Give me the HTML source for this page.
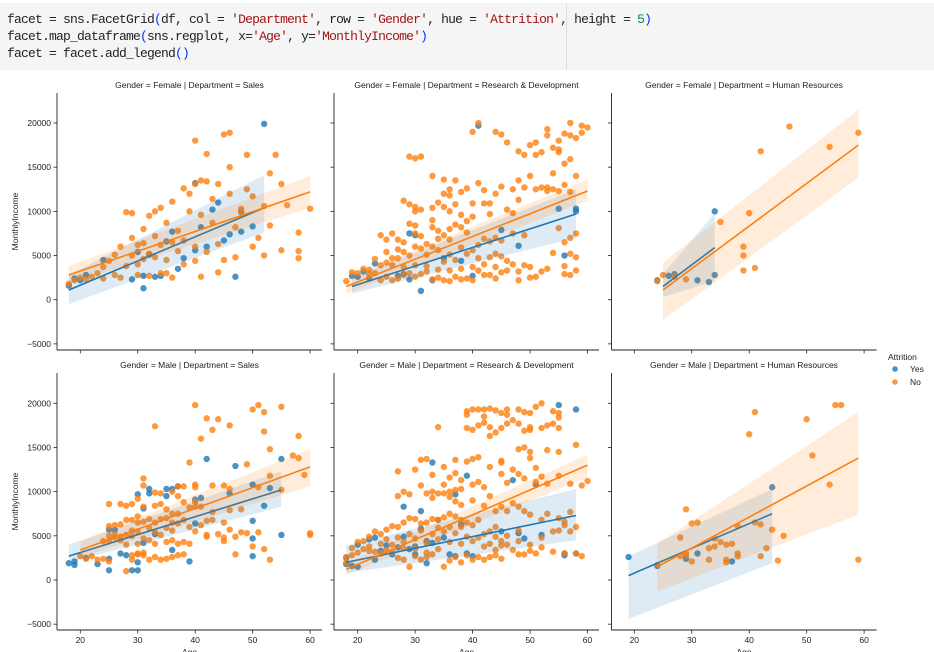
<!DOCTYPE html>
<html><head><meta charset="utf-8">
<style>
html,body{margin:0;padding:0;background:#fff;width:934px;height:652px;overflow:hidden;}
#cell{position:absolute;left:0;top:3px;width:934px;height:67px;background:#f5f5f5;}
#cell pre{margin:0;position:absolute;left:7px;top:8px;font-family:"Liberation Mono","Noto Sans CJK KR",monospace;font-size:13px;letter-spacing:-0.8px;line-height:17px;color:#222;}
.s{color:#a31515}.n{color:#098658}.b{color:#0431fa}
#vline{position:absolute;left:566px;top:0;width:1px;height:67px;background:#ddd;}
svg{position:absolute;left:0;top:0;}
svg text{font-family:"Liberation Sans",sans-serif;}
</style></head><body>
<div id="cell"><pre>facet = sns.FacetGrid<span class="b">(</span>df, col = <span class="s">'Department'</span>, row = <span class="s">'Gender'</span>, hue = <span class="s">'Attrition'</span>, height = <span class="n">5</span><span class="b">)</span>
facet.map_dataframe<span class="b">(</span>sns.regplot, x=<span class="s">'Age'</span>, y=<span class="s">'MonthlyIncome'</span><span class="b">)</span>
facet = facet.add_legend<span class="b">()</span></pre><div id="vline"></div></div>
<svg id="chart" width="934" height="652"></svg>
<script>
// ---- data: [age, income] pairs ----
const fsYes=[[18,1600],[19,2400],[20,2200],[21,2800],[24,4500],[29,2300],[30,5400],[31,2700],[31,1300],[32,5100],[33,2600],[35,6600],[36,7700],[38,4700],[40,13200],[40,5600],[41,8200],[42,6000],[43,10200],[44,11000],[45,6700],[46,7400],[47,2600],[48,10000],[48,7700],[50,8300],[52,19900],[37,3500],[34,2700]];
const fsNo=[[18,1800],[19,2200],[20,2500],[21,2300],[22,2600],[23,3000],[24,2400],[25,4400],[26,2800],[27,2500],[27,6000],[28,3800],[28,9900],[29,9800],[29,5000],[29,7000],[30,4000],[30,6200],[30,2800],[31,8000],[31,4600],[32,5200],[32,2700],[33,10000],[33,4800],[33,7200],[34,6200],[34,3000],[34,10400],[35,8700],[35,4500],[36,6500],[36,11100],[36,2500],[37,5500],[37,7800],[38,12600],[38,4000],[39,12000],[39,10000],[40,18000],[40,13100],[40,6000],[40,4400],[41,13500],[41,9600],[41,2600],[42,16500],[42,13400],[42,5400],[43,11400],[43,8700],[44,6300],[44,13100],[45,18700],[45,4500],[46,18900],[46,12000],[46,15000],[47,8200],[47,4800],[48,9900],[48,10300],[49,16400],[49,12500],[50,6000],[50,11700],[51,7000],[52,10600],[53,14300],[53,8400],[54,16400],[55,5600],[55,13100],[56,10700],[58,7600],[58,4700],[58,5500],[60,10300],[52,5000],[44,3100],[38,6700],[32,9500],[31,6400],[26,5100],[24,3700],[35,3000]];
const frYes=[[19,2700],[20,2600],[21,3200],[22,2400],[23,4100],[27,2700],[29,2300],[29,7500],[30,7300],[31,1000],[33,2200],[35,4700],[38,4400],[40,2700],[41,19700],[45,7900],[48,6100],[55,10300],[56,5000],[58,10000],[58,10300],[28,2900]];
const frNo=[[41,20000],[40,19000],[44,19000],[45,18700],[46,17800],[48,16800],[49,16400],[51,16400],[52,16700],[54,17200],[50,17500],[55,17000],[56,18800],[57,18600],[58,18300],[59,18900],[55,18000],[57,20000],[59,19700],[60,19500],[53,19300],[51,17800],[53,18600],[55,16700],[57,15900],[56,15400],[54,14300],[50,14000],[48,13500],[52,12700],[53,12700],[54,12500],[55,12300],[56,13000],[51,12500],[53,12300],[57,12200],[58,14000],[48,11300],[47,12500],[45,12800],[42,12400],[43,10900],[41,13200],[39,12600],[38,12200],[37,13500],[36,12500],[35,13600],[36,11800],[33,14000],[30,16000],[31,16200],[29,16200],[35,12000],[44,12000],[49,12700],[28,11200],[29,10800],[30,10500],[30,10000],[31,10200],[33,10400],[34,11000],[35,10500],[36,10000],[37,10800],[38,9600],[40,10900],[42,10900],[46,10200],[47,9800],[40,9400],[43,9700],[33,8200],[34,7800],[36,8000],[37,8500],[30,8400],[29,8600],[26,7500],[27,6800],[25,6800],[24,7300],[28,6500],[30,7500],[34,6900],[35,7300],[36,6800],[38,8200],[39,7600],[41,6200],[42,6900],[43,6600],[44,7000],[45,6700],[47,7500],[49,7300],[55,8100],[56,6500],[57,7000],[58,7500],[54,5300],[56,3800],[57,5200],[58,4800],[56,2900],[58,3300],[57,2800],[53,3500],[52,3200],[50,3700],[49,3900],[48,3200],[47,4000],[46,4400],[45,4900],[44,5200],[43,4800],[41,4700],[40,5600],[39,5200],[38,5900],[37,4500],[36,5100],[35,4300],[34,5600],[33,6000],[32,5100],[31,5800],[30,6000],[29,5000],[28,5400],[27,4700],[26,4700],[25,4200],[24,3900],[23,4600],[22,3400],[21,3500],[20,3000],[19,3100],[18,2100],[22,2900],[23,3000],[24,2200],[25,2600],[26,2200],[27,2400],[28,2800],[29,3000],[30,2600],[31,2900],[32,3200],[33,2300],[34,2500],[35,2200],[36,2100],[37,2600],[38,2300],[39,2400],[40,2200],[41,3300],[42,2800],[43,2800],[44,2400],[45,3100],[46,3300],[48,2200],[50,2500],[51,2600],[26,3900],[28,3700],[30,3900],[32,3800],[34,3400],[36,3300],[38,3500],[40,3700],[42,4000],[44,3700],[31,7200],[32,6300],[27,5700],[25,5400],[33,9000],[39,8900]];
const fhYes=[[24,2200],[26,2700],[27,2900],[31,2200],[34,10000],[34,2800],[33,2000]];
const fhNo=[[24,2100],[25,2800],[27,2600],[29,2300],[35,8800],[39,5000],[39,6000],[39,3300],[40,9800],[41,3600],[42,16800],[47,19600],[54,17300],[59,18900]];
const msYes=[[18,1900],[19,2100],[19,1700],[21,2500],[23,1800],[25,1100],[25,2400],[25,5700],[26,5700],[27,3000],[28,2800],[29,1100],[30,1100],[30,2000],[30,9700],[31,8100],[31,4200],[32,10300],[32,9800],[35,10300],[36,10300],[37,10600],[36,3400],[39,2100],[40,6400],[40,9100],[41,9300],[42,13700],[46,9800],[47,12900],[50,10800],[50,6700],[50,4700],[50,2700],[52,8400],[53,10400],[55,13700],[55,5100],[35,9500],[33,5200]];
const msNo=[[40,19800],[51,19800],[50,19300],[55,19600],[52,19000],[33,17400],[42,18300],[44,18200],[43,17000],[46,17500],[52,16800],[41,16000],[58,16300],[53,14800],[57,14100],[58,13800],[39,13300],[49,13100],[59,11900],[53,11800],[31,11500],[31,10700],[40,10800],[40,10500],[43,10700],[45,10700],[46,10300],[55,10200],[51,10500],[37,10600],[38,10600],[36,10000],[33,9900],[34,9800],[37,9500],[30,9200],[25,8600],[27,8600],[28,8400],[29,8600],[31,8300],[33,8400],[35,8000],[39,8200],[40,8300],[41,8300],[48,8000],[46,7900],[43,7700],[36,7500],[37,7500],[38,8800],[40,8800],[34,8600],[30,7200],[32,6900],[26,6200],[25,6100],[27,6300],[28,6800],[29,6800],[30,6500],[31,6600],[33,6500],[34,6900],[35,7000],[36,6500],[37,6400],[38,6800],[39,6000],[41,6200],[42,6700],[43,6800],[45,6500],[46,5700],[47,4900],[48,5400],[49,5300],[51,5400],[44,5200],[42,4900],[40,5500],[39,4100],[38,4300],[36,4500],[37,4100],[35,4300],[33,4100],[32,4500],[31,4700],[30,4100],[29,5600],[28,5100],[27,4900],[26,4800],[25,4400],[24,4400],[22,2700],[20,2700],[21,2400],[23,2300],[24,2400],[25,2100],[28,1000],[29,2300],[30,2900],[31,2800],[32,2300],[33,2600],[34,2300],[35,2400],[36,2600],[37,2800],[38,2900],[42,5100],[45,4400],[45,4800],[47,2900],[50,3800],[52,3500],[53,2300],[60,5300],[60,5100],[29,2800],[30,3000],[31,3100],[25,5000],[26,5200],[27,4500],[28,4000],[32,5900],[33,5400],[34,5100],[35,5900],[36,5600],[29,5000],[30,5500]];
const mrYes=[[18,1800],[18,2500],[19,1600],[20,1500],[20,4000],[22,4600],[23,4800],[23,2300],[24,3300],[26,2900],[27,3700],[28,8300],[28,4900],[29,3500],[30,2900],[31,7800],[31,5800],[32,4400],[32,1900],[33,13300],[33,4200],[34,6800],[35,4800],[36,2900],[37,9700],[37,2700],[38,6300],[39,11800],[39,3000],[40,2700],[45,5500],[47,11300],[48,5300],[49,4700],[51,10800],[52,5100],[55,19800],[56,3000],[56,2800],[58,3000],[58,19300],[30,3800],[25,3900]];
const mrNo=[[39,19100],[39,18700],[40,19300],[41,19300],[42,19300],[42,18500],[43,19400],[44,19200],[45,18900],[46,19300],[46,18700],[48,19300],[49,19000],[50,18900],[51,19600],[52,20000],[54,19100],[55,18900],[55,18400],[42,17800],[43,17300],[44,16700],[45,17200],[46,17700],[47,18100],[48,17700],[49,16900],[50,17300],[50,17000],[52,17200],[53,17500],[54,17700],[55,17200],[39,17200],[40,17000],[41,17500],[34,17300],[43,16300],[48,14800],[49,15000],[50,14500],[50,13800],[53,14700],[55,14500],[58,15300],[41,13900],[40,13700],[39,13400],[37,13600],[32,13700],[31,13600],[27,12300],[30,12500],[33,11900],[35,12800],[37,12100],[38,11300],[36,11600],[43,12800],[45,13300],[45,13500],[47,12500],[49,11500],[51,12700],[51,11100],[52,11700],[53,10900],[55,11800],[57,10900],[60,11200],[59,10700],[48,12000],[46,11000],[45,12000],[42,10500],[41,11100],[40,10800],[38,10300],[37,10200],[36,10000],[35,10800],[34,9800],[33,10000],[32,9800],[31,10700],[29,9700],[28,10000],[27,9500],[33,9300],[35,9800],[36,9400],[37,8900],[38,8500],[40,9000],[42,8400],[43,9500],[44,7800],[45,8300],[46,7800],[47,8700],[48,8300],[49,7800],[50,7400],[52,6800],[53,7500],[55,7000],[56,6600],[57,7700],[58,6000],[55,5600],[57,5500],[56,6200],[58,3000],[59,2700],[56,3000],[54,3200],[52,3700],[50,3300],[49,2900],[48,2900],[50,4000],[51,3000],[47,3400],[46,4000],[45,4400],[44,4900],[43,5500],[42,5200],[41,6800],[40,6200],[39,6500],[38,6800],[37,7200],[36,7500],[35,7100],[34,6800],[33,6900],[32,6500],[31,6400],[30,6900],[29,7000],[28,6500],[27,6000],[26,6100],[25,5700],[24,5200],[23,5500],[22,4900],[21,4400],[20,4300],[19,3600],[18,2600],[18,2000],[19,2800],[20,3100],[21,3500],[22,3800],[23,3200],[24,3000],[25,3400],[26,3200],[27,2500],[28,2300],[29,1500],[30,2700],[31,2300],[32,2600],[33,2900],[34,3500],[35,1500],[36,2200],[37,2600],[38,2000],[39,2800],[40,2300],[41,2600],[42,2300],[43,2600],[44,2800],[45,2400],[25,4600],[27,4800],[29,5200],[31,5600],[33,5200],[35,5500],[37,5300],[39,4900],[41,4800],[43,4100],[45,3900],[26,4000],[28,4300],[30,4700],[32,4200],[34,4600],[36,4300],[38,4100],[40,4400],[42,3800],[44,3400],[48,4400],[24,4100],[22,3300],[28,3600],[30,3500],[32,3100],[34,5900],[36,6000],[38,6000],[44,6000],[46,5000],[48,5600],[52,4800],[54,5500]];
const mhYes=[[19,2600],[24,1600],[29,2400],[31,3000],[37,2100],[44,10500]];
const mhNo=[[24,1700],[28,2700],[28,4800],[29,8000],[29,2800],[30,6400],[30,2100],[31,6500],[33,3600],[33,2300],[34,4700],[34,3800],[35,4300],[36,4000],[36,2300],[36,2000],[37,4100],[38,3000],[38,2700],[38,6100],[40,16500],[41,19000],[41,6500],[42,6300],[42,2700],[43,3600],[44,5700],[45,2200],[46,5000],[50,18200],[51,14100],[54,10800],[55,19800],[56,19800],[59,2300],[29,3000]];
// regression fits: [ageStart, incStart, ageEnd, incEnd]
const fsYesFit=[18,1100,52,10400], fsNoFit=[18,2800,60,12200];
const frYesFit=[19,1500,58,9700], frNoFit=[18,1500,60,12300];
const fhYesFit=[25,1500,34,5900], fhNoFit=[25,1100,59,17500];
const msYesFit=[18,2700,55,10200], msNoFit=[20,3400,60,12800];
const mrYesFit=[18,2000,58,7300], mrNoFit=[18,1200,60,13000];
const mhYesFit=[19,500,44,7500], mhNoFit=[24,1500,59,13800];
// confidence bands: [lowStart, highStart, lowEnd, highEnd]
const fsYesCI=[-500,2800,7600,14100], fsNoCI=[1800,3800,10400,14000];
const frYesCI=[700,2500,7000,12500], frNoCI=[700,2400,11200,13600];
const fhYesCI=[300,2900,2100,9800], fhNoCI=[-2300,4200,13800,21500];
const msYesCI=[2000,4000,8300,12300], msNoCI=[2600,4400,10600,14800];
const mrYesCI=[800,3900,4500,10300], mrNoCI=[600,1900,11600,14200];
const mhYesCI=[-4400,2700,1900,10300], mhNoCI=[-1300,4100,7400,19000];
const yTicks=[-5000,0,5000,10000,15000,20000];
const xTicks=[20,30,40,50,60];
const colTitles=['Sales','Research & Development','Human Resources'];
const rowTitles=['Female','Male'];

const NS='http://www.w3.org/2000/svg';
const svg=document.getElementById('chart');
const BLUE='#1f77b4', ORANGE='#ff7f0e';
const colLeft=[57,334,611.5], colX20=[80.3,357.7,634.3];
const rowTop=[93,373], rowBottom=[350,630], rowZero=[299.7,580];
const PXY=5.745, PXI=0.008835, W=265;
function el(t,a,p){const e=document.createElementNS(NS,t);for(const k in a)e.setAttribute(k,a[k]);(p||svg).appendChild(e);return e;}

const panels=[
 [0,0,fsYes,fsNo,fsYesFit,fsNoFit,fsYesCI,fsNoCI],[0,1,frYes,frNo,frYesFit,frNoFit,frYesCI,frNoCI],[0,2,fhYes,fhNo,fhYesFit,fhNoFit,fhYesCI,fhNoCI],
 [1,0,msYes,msNo,msYesFit,msNoFit,msYesCI,msNoCI],[1,1,mrYes,mrNo,mrYesFit,mrNoFit,mrYesCI,mrNoCI],[1,2,mhYes,mhNo,mhYesFit,mhNoFit,mhYesCI,mhNoCI]];

panels.forEach(([r,c,yes,no,yf,nf,yci,nci])=>{
  const X=a=>colX20[c]+(a-20)*PXY, Y=v=>rowZero[r]-v*PXI;
  const g=el('g',{});
  
  
  const L=colLeft[c],T=rowTop[r],B=rowBottom[r];
  const cp=el('clipPath',{id:'cp'+r+c},g); el('rect',{x:L,y:T,width:W,height:B-T},cp);
  const t=el('text',{x:L+W/2,y:T-5,'text-anchor':'middle','font-size':'8.5',fill:'#222'},g);
  t.textContent='Gender = '+rowTitles[r]+' | Department = '+colTitles[c];
  
  
  const plot=el('g',{'clip-path':'url(#cp'+r+c+')'},g);
  [[yes,BLUE],[no,ORANGE]].forEach(([pts,col])=>{
    pts.forEach(p=>{const d=el('circle',{cx:X(p[0]),cy:Y(p[1]),r:3.2,fill:col,'fill-opacity':0.8},plot);
      
      });
  });
  [[yf,yci,BLUE],[nf,nci,ORANGE]].forEach(([f,ci,col])=>{
    const band=el('path',{d:`M${X(f[0])},${Y(ci[1])}L${X(f[2])},${Y(ci[3])}L${X(f[2])},${Y(ci[2])}L${X(f[0])},${Y(ci[0])}Z`,fill:col,'fill-opacity':0.15},plot);
    
    
    const ln=el('line',{x1:X(f[0]),y1:Y(f[1]),x2:X(f[2]),y2:Y(f[3]),stroke:col,'stroke-width':1.6},plot);
    
    
  });
  el('line',{x1:L,y1:T,x2:L,y2:B,stroke:'#222','stroke-width':0.9},g);
  el('line',{x1:L,y1:B,x2:L+W,y2:B,stroke:'#222','stroke-width':0.9},g);
  yTicks.forEach(v=>{el('line',{x1:L-3.5,y1:Y(v),x2:L,y2:Y(v),stroke:'#222','stroke-width':0.8},g);
    if(c==0){const tt=el('text',{x:L-6,y:Y(v)+3,'text-anchor':'end','font-size':'8.5',fill:'#222'},g);tt.textContent=v<0?'\u2212'+(-v):v;
      
      }});
  xTicks.forEach(v=>{el('line',{x1:X(v),y1:B,x2:X(v),y2:B+3.5,stroke:'#222','stroke-width':0.8},g);
    if(r==1){const tt=el('text',{x:X(v),y:B+13,'text-anchor':'middle','font-size':'8.5',fill:'#222'},g);tt.textContent=v;
      
      }});
  if(c==0){const yl=el('text',{x:0,y:0,transform:`translate(18,${(T+B)/2}) rotate(-90)`,'text-anchor':'middle','font-size':'8.5',fill:'#222'},g);yl.textContent='MonthlyIncome';
    
    }
  if(r==1){const xl=el('text',{x:L+W/2,y:B+25,'text-anchor':'middle','font-size':'8.5',fill:'#222'},g);xl.textContent='Age';
    
    }
});
// legend
const lg=el('g',{});


const lt=el('text',{x:888,y:360,'font-size':'8.5',fill:'#222'},lg);lt.textContent='Attrition';
[['Yes',BLUE,369],['No',ORANGE,382]].forEach(([lab,col,y])=>{
  el('circle',{cx:895,cy:y,r:2.8,fill:col,'fill-opacity':0.8},lg);
  const tx=el('text',{x:910,y:y+3,'font-size':'8.5',fill:'#222'},lg);tx.textContent=lab;
  
  
});
</script>
</body></html>
